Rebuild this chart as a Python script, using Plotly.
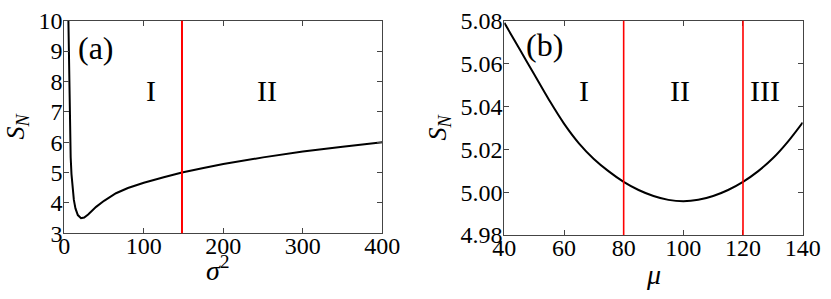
import plotly.graph_objects as go

# Panel (a): S_N vs sigma^2
sigma2 = [5.0, 5.5, 6.0, 6.5, 7.0, 8.0, 9.0, 10, 12, 14, 17, 21, 25, 30, 40, 50, 65, 80, 100, 125, 148, 175, 200, 250, 300, 350, 400]
sn_a = [10.2, 9.4, 8.3, 7.3, 6.5, 5.5, 4.95, 4.6, 4.1, 3.82, 3.6, 3.5, 3.52, 3.62, 3.87, 4.07, 4.32, 4.49, 4.665, 4.845, 5.0, 5.15, 5.28, 5.5, 5.69, 5.85, 6.0]
boundary_a = [148]
regions_a = ["I", "II"]
region_a_x = [109, 255]
xticks_a = [0, 100, 200, 300, 400]
yticks_a = [3, 4, 5, 6, 7, 8, 9, 10]

# Panel (b): S_N vs mu
mu = [40, 45, 50, 55, 60, 65, 70, 75, 80, 85, 90, 95, 100, 105, 110, 115, 120, 125, 130, 135, 140]
sn_b = [5.0790, 5.0670, 5.0550, 5.0430, 5.0320, 5.0228, 5.0155, 5.0097, 5.0048, 5.0010, 4.9982, 4.9964, 4.9958, 4.9964, 4.9982, 5.0010, 5.0048, 5.0097, 5.0158, 5.0235, 5.0325]
boundary_b = [80, 120]
regions_b = ["I", "II", "III"]
region_b_x = [66.7, 98.8, 127.5]
xticks_b = [40, 60, 80, 100, 120, 140]
yticks_b = [4.98, 5.00, 5.02, 5.04, 5.06, 5.08]

FONT = "Liberation Serif"
FRAME = "#444444"

fig = go.Figure()
fig.add_trace(go.Scatter(x=sigma2, y=sn_a, mode="lines", line=dict(color="black", width=2),
                         xaxis="x", yaxis="y", showlegend=False))
fig.add_trace(go.Scatter(x=mu, y=sn_b, mode="lines", line=dict(color="black", width=2, shape="spline"),
                         xaxis="x2", yaxis="y2", showlegend=False))

shapes = []
for b in boundary_a:
    shapes.append(dict(type="line", xref="x", yref="y domain", x0=b, x1=b, y0=0, y1=1,
                       line=dict(color="#ff0000", width=2)))
for b in boundary_b:
    shapes.append(dict(type="line", xref="x2", yref="y2 domain", x0=b, x1=b, y0=0, y1=1,
                       line=dict(color="#ff0000", width=1.6)))

ann = []
ann.append(dict(text="(a)", xref="x", yref="y", x=40, y=9.1, showarrow=False,
                font=dict(size=32, family=FONT, color="black")))
for t, xx in zip(regions_a, region_a_x):
    ann.append(dict(text=t, xref="x", yref="y", x=xx, y=7.69, showarrow=False,
                    font=dict(size=30, family=FONT, color="black")))
ann.append(dict(text="(b)", xref="x2", yref="y2", x=53.5, y=5.0685, showarrow=False,
                font=dict(size=32, family=FONT, color="black")))
for t, xx in zip(regions_b, region_b_x):
    ann.append(dict(text=t, xref="x2", yref="y2", x=xx, y=5.0474, showarrow=False,
                    font=dict(size=30, family=FONT, color="black")))
# x-axis titles placed as in the reference (close under the tick labels)
ann.append(dict(text="<i>σ</i><sup>2</sup>", xref="paper", yref="paper", x=218 / 831, y=1 - 268 / 299,
                xanchor="center", yanchor="middle", showarrow=False,
                font=dict(size=28, family=FONT, color="black")))
ann.append(dict(text="<i>μ</i>", xref="paper", yref="paper", x=653 / 831, y=1 - 274 / 299,
                xanchor="center", yanchor="middle", showarrow=False,
                font=dict(size=28, family=FONT, color="black")))

axis_common = dict(showline=True, linecolor=FRAME, linewidth=1, mirror="ticks",
                   ticks="inside", ticklen=5, tickcolor=FRAME, tickwidth=1,
                   showgrid=False, zeroline=False, automargin=False,
                   tickfont=dict(size=24, family=FONT, color="black"))

fig.update_layout(
    width=831, height=299,
    margin=dict(l=0, r=0, t=0, b=0),
    paper_bgcolor="white", plot_bgcolor="white",
    font=dict(family=FONT, color="black", size=24),
    shapes=shapes, annotations=ann,
    xaxis=dict(domain=[0.0774, 0.4601], range=[0, 400], tickvals=xticks_a, anchor="y",
               ticklabelstandoff=-9, **axis_common),
    yaxis=dict(domain=[0.2197, 0.9308], range=[3, 10], tickvals=yticks_a, anchor="x",
               title=dict(text="<i>S</i><sub><i>N</i></sub>", font=dict(size=26, family=FONT), standoff=6),
               ticklabelstandoff=-4, **axis_common),
    xaxis2=dict(domain=[0.6069, 0.9659], range=[40, 140], tickvals=xticks_b, anchor="y2",
                ticklabelstandoff=-9, **axis_common),
    yaxis2=dict(domain=[0.2140, 0.9308], range=[4.98, 5.08], tickvals=yticks_b, tickformat=".2f",
                anchor="x2",
                title=dict(text="<i>S</i><sub><i>N</i></sub>", font=dict(size=26, family=FONT), standoff=6),
                ticklabelstandoff=-4, **axis_common),
)

fig.write_html("out.html", config={"displayModeBar": False},
               post_script="document.body.style.margin='0';document.body.style.padding='0';")
